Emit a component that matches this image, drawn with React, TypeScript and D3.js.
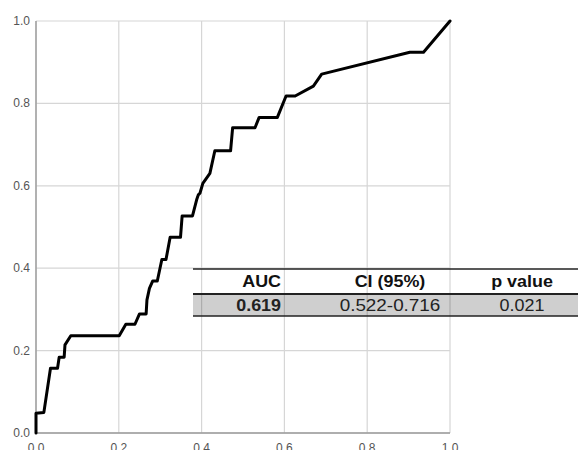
import React from "react";
import * as d3 from "d3";

// ROC curve points
const fpr = [0, 0, 0.019, 0.035, 0.052, 0.056, 0.068, 0.07, 0.084, 0.201, 0.217, 0.239, 0.25, 0.266, 0.268, 0.274, 0.282, 0.293, 0.304, 0.314, 0.324, 0.349, 0.353, 0.378, 0.388, 0.392, 0.396, 0.403, 0.42, 0.432, 0.47, 0.475, 0.529, 0.539, 0.583, 0.604, 0.626, 0.67, 0.69, 0.903, 0.936, 1];
const tpr = [0, 0.048, 0.05, 0.157, 0.157, 0.184, 0.184, 0.214, 0.236, 0.236, 0.264, 0.264, 0.289, 0.289, 0.323, 0.351, 0.369, 0.369, 0.421, 0.421, 0.475, 0.475, 0.527, 0.527, 0.566, 0.578, 0.582, 0.606, 0.63, 0.685, 0.685, 0.741, 0.741, 0.766, 0.766, 0.818, 0.818, 0.842, 0.871, 0.924, 0.924, 1];

const ticks = [0, 0.2, 0.4, 0.6, 0.8, 1.0];

const tableHeader = ["AUC", "CI (95%)", "p value"];
const tableRow = ["0.619", "0.522-0.716", "0.021"];

const width = 578, height = 450;
const left = 36, right = 450, top = 21, bottom = 433;

export default function App() {
  const x = d3.scaleLinear().domain([0, 1]).range([left, right]);
  const y = d3.scaleLinear().domain([0, 1]).range([bottom, top]);

  const pts: [number, number][] = fpr.map((f, i) => [f, tpr[i]]);
  const line = d3.line<[number, number]>().x(d => x(d[0])).y(d => y(d[1]));

  // table placement (pixels), stretched text like the pasted image
  const tLeft = 193, tRight = 580;
  const rowTop = 269, rowMid = 294, rowBot = 316;
  const colX = [281, 390, 522];
  const colAnchor = ["end", "middle", "middle"];
  const sx = 1.12;

  return (
    <svg width={width} height={height} style={{ position: "absolute", left: 0, top: 0, background: "#fff" }}
      fontFamily="'Liberation Sans', Arial, sans-serif">
      {/* gridlines */}
      {ticks.map(t => (
        <g key={"g" + t}>
          <line x1={x(t)} x2={x(t)} y1={top} y2={bottom} stroke="#d6d6d6" strokeWidth={1.2} />
          <line x1={left} x2={right} y1={y(t)} y2={y(t)} stroke="#d6d6d6" strokeWidth={1.2} />
        </g>
      ))}
      {/* axes */}
      <line x1={left} x2={left} y1={top} y2={bottom} stroke="#9a9a9a" strokeWidth={1.4} />
      <line x1={left} x2={right} y1={bottom} y2={bottom} stroke="#9a9a9a" strokeWidth={1.4} />

      {ticks.map(t => (
        <text key={"y" + t} x={left - 6} y={y(t) + 4} textAnchor="end" fontSize={12} fill="#555">
          {t.toFixed(1)}
        </text>
      ))}
      {ticks.map(t => (
        <text key={"x" + t} x={x(t)} y={bottom + 19} textAnchor="middle" fontSize={12} fill="#555">
          {t.toFixed(1)}
        </text>
      ))}

      <path d={line(pts) || ""} fill="none" stroke="#000" strokeWidth={3} strokeLinejoin="round" strokeLinecap="round" />

      {/* AUC table */}
      <rect x={tLeft} y={rowMid} width={tRight - tLeft} height={rowBot - rowMid} fill="#000" fillOpacity={0.19} />
      <line x1={tLeft} x2={tRight} y1={rowTop} y2={rowTop} stroke="#222" strokeWidth={1.5} />
      <line x1={tLeft} x2={tRight} y1={rowMid} y2={rowMid} stroke="#222" strokeWidth={1.8} />
      <line x1={tLeft} x2={tRight} y1={rowBot} y2={rowBot} stroke="#222" strokeWidth={1.5} />
      {tableHeader.map((h, i) => (
        <text key={"h" + i} transform={`translate(${colX[i]},287) scale(${sx},1)`} textAnchor={colAnchor[i] as any}
          fontSize={16} fontWeight="bold" fill="#111">
          {h}
        </text>
      ))}
      {tableRow.map((v, i) => (
        <text key={"r" + i} transform={`translate(${colX[i]},311) scale(${i === 1 ? 1.18 : sx},1)`} textAnchor={colAnchor[i] as any}
          fontSize={16} fontWeight={i === 0 ? "bold" : "normal"} fill="#222">
          {v}
        </text>
      ))}
    </svg>
  );
}
